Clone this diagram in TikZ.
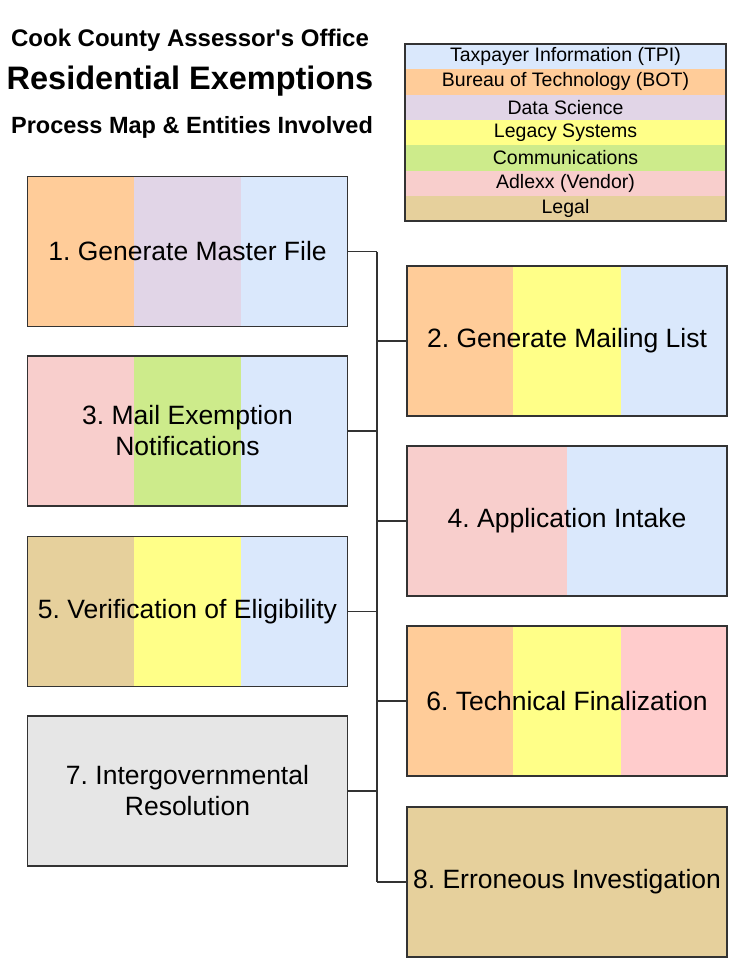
\documentclass[tikz,border=0pt]{standalone}
\usepackage{fontspec}
\setmainfont{Liberation Sans}
\usetikzlibrary{positioning, calc, backgrounds}
\frenchspacing

\definecolor{tpi}{HTML}{DAE8FC}
\definecolor{bot}{HTML}{FFCC99}
\definecolor{datasci}{HTML}{E1D5E7}
\definecolor{legacy}{HTML}{FFFF88}
\definecolor{comms}{HTML}{CDEB8B}
\definecolor{vendor}{HTML}{F8CECC}
\definecolor{legal}{HTML}{E6D09C}
\definecolor{rose}{HTML}{FFCCCC}
\definecolor{govgrey}{HTML}{E6E6E6}
\definecolor{edge}{HTML}{333333}

\tikzset{
    stage/.style={draw=edge, line width=1.5pt, rectangle, minimum width=320pt, minimum height=150pt, inner sep=0pt, align=center, font=\fontsize{26.5}{31}\selectfont},
    key/.style={rectangle, minimum width=321pt, minimum height=25.3pt, inner sep=0pt, outer sep=0pt, font=\fontsize{19.5}{22}\selectfont},
    link/.style={draw=edge, line width=1.2pt},
}

\begin{document}
\begin{tikzpicture}[x=1pt, y=-1pt]
    \useasboundingbox (0,0) rectangle (729,958);

    % title
    \node[font=\bfseries\fontsize{24}{28}\selectfont] at (190, 40) (office) {Cook County Assessor\textquotesingle s Office};
    \node[font=\bfseries\fontsize{32.5}{38}\selectfont] at (190, 81) (program) {Residential Exemptions};
    \node[font=\bfseries\fontsize{23.5}{28}\selectfont] at (192, 127) (subtitle) {Process Map \& Entities Involved};

    % legend
    \node[key, fill=tpi] at (565.5, 56.65) (k1) {Taxpayer Information (TPI)};
    \node[key, fill=bot, below=0pt of k1] (k2) {Bureau of Technology (BOT)};
    \node[key, fill=datasci, below=0pt of k2] (k3) {Data Science};
    \node[key, fill=legacy, below=0pt of k3] (k4) {Legacy Systems};
    \node[key, fill=comms, below=0pt of k4] (k5) {Communications};
    \node[key, fill=vendor, below=0pt of k5] (k6) {Adlexx (Vendor)};
    \node[key, fill=legal, below=0pt of k6] (k7) {Legal};
    \draw[draw=edge, line width=1.5pt] (k1.north west) rectangle (k7.south east);

    % stages
    \node[stage] at (187.5, 251.5) (s1) {1. Generate Master File};
    \node[stage] at (567, 341) (s2) {2. Generate Mailing List};
    \node[stage] at (187.5, 431) (s3) {3. Mail Exemption\\Notifications};
    \node[stage] at (567, 521) (s4) {4. Application Intake};
    \node[stage] at (187.5, 611.5) (s5) {5. Verification of Eligibility};
    \node[stage] at (567, 701) (s6) {6. Technical Finalization};
    \node[stage, fill=govgrey] at (187.5, 791) (s7) {7. Intergovernmental\\Resolution};
    \node[stage, fill=legal] at (567, 882) (s8) {8. Erroneous Investigation};

    % entity stripes
    \begin{scope}[on background layer]
        \fill[bot] (s1.north west) rectangle ($(s1.south west)!1/3!(s1.south east)$);
        \fill[datasci] ($(s1.north west)!1/3!(s1.north east)$) rectangle ($(s1.south west)!2/3!(s1.south east)$);
        \fill[tpi] ($(s1.north west)!2/3!(s1.north east)$) rectangle (s1.south east);

        \fill[bot] (s2.north west) rectangle ($(s2.south west)!1/3!(s2.south east)$);
        \fill[legacy] ($(s2.north west)!1/3!(s2.north east)$) rectangle ($(s2.south west)!2/3!(s2.south east)$);
        \fill[tpi] ($(s2.north west)!2/3!(s2.north east)$) rectangle (s2.south east);

        \fill[vendor] (s3.north west) rectangle ($(s3.south west)!1/3!(s3.south east)$);
        \fill[comms] ($(s3.north west)!1/3!(s3.north east)$) rectangle ($(s3.south west)!2/3!(s3.south east)$);
        \fill[tpi] ($(s3.north west)!2/3!(s3.north east)$) rectangle (s3.south east);

        \fill[vendor] (s4.north west) rectangle (s4.south);
        \fill[tpi] (s4.north) rectangle (s4.south east);

        \fill[legal] (s5.north west) rectangle ($(s5.south west)!1/3!(s5.south east)$);
        \fill[legacy] ($(s5.north west)!1/3!(s5.north east)$) rectangle ($(s5.south west)!2/3!(s5.south east)$);
        \fill[tpi] ($(s5.north west)!2/3!(s5.north east)$) rectangle (s5.south east);

        \fill[bot] (s6.north west) rectangle ($(s6.south west)!1/3!(s6.south east)$);
        \fill[legacy] ($(s6.north west)!1/3!(s6.north east)$) rectangle ($(s6.south west)!2/3!(s6.south east)$);
        \fill[rose] ($(s6.north west)!2/3!(s6.north east)$) rectangle (s6.south east);
    \end{scope}

    % connectors
    \coordinate (bus) at (377, 0);
    \draw[link] (s1.east) -- (s1.east -| bus);
    \draw[link] (s2.west) -- (s2.west -| bus);
    \draw[link] (s3.east) -- (s3.east -| bus);
    \draw[link] (s4.west) -- (s4.west -| bus);
    \draw[link] (s5.east) -- (s5.east -| bus);
    \draw[link] (s6.west) -- (s6.west -| bus);
    \draw[link] (s7.east) -- (s7.east -| bus);
    \draw[link] (s8.west) -- (s8.west -| bus);
    \draw[link] (s1.east -| bus) -- (s8.west -| bus);
\end{tikzpicture}
\end{document}
